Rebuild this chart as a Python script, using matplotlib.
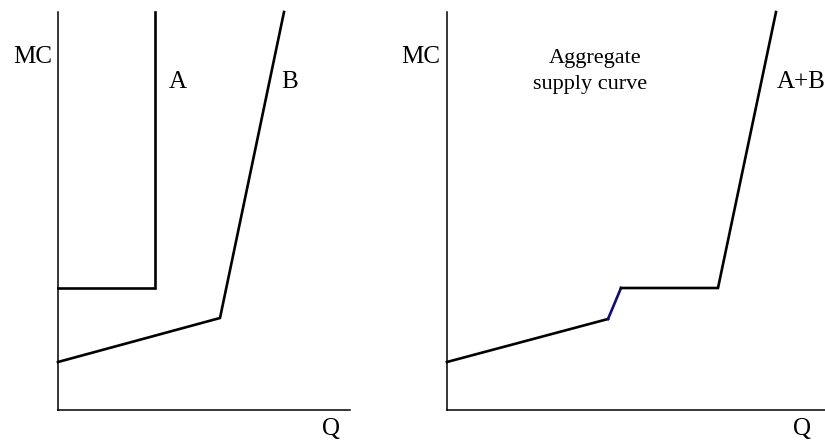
import matplotlib
matplotlib.use("Agg")
import matplotlib.pyplot as plt

# Data (Q, MC)
a_q = [0, 97, 97]
a_mc = [122, 122, 398]
b_q = [0, 162, 226]
b_mc = [48, 92, 398]
agg_q = [0, 161, 174, 271, 329]
agg_mc = [48, 91, 122, 122, 398]

W, H = 825, 444
fig = plt.figure(figsize=(W / 100, H / 100), dpi=100)
plt.rcParams['font.family'] = ['Liberation Serif', 'DejaVu Serif']

def make_ax(left, right, top, bottom):
    ax = fig.add_axes([left / W, 1 - bottom / H, (right - left) / W, (bottom - top) / H])
    ax.set_xlim(0, right - left)
    ax.set_ylim(0, bottom - top)
    for s in ('top', 'right'):
        ax.spines[s].set_visible(False)
    for s in ('left', 'bottom'):
        ax.spines[s].set_linewidth(1.1)
        ax.spines[s].set_color('black')
    ax.set_xticks([])
    ax.set_yticks([])
    ax.patch.set_alpha(0)
    return ax

ax1 = make_ax(58, 350, 12, 410)
ax1.plot(a_q, a_mc, color='black', lw=1.9, solid_joinstyle='miter', clip_on=False)
ax1.plot(b_q, b_mc, color='black', lw=1.9, solid_joinstyle='miter', clip_on=False)

ax2 = make_ax(447, 825, 12, 410)
ax2.plot(agg_q[:2], agg_mc[:2], color='black', lw=1.9, clip_on=False)
ax2.plot(agg_q[1:3], agg_mc[1:3], color='#0b0b85', lw=1.9, clip_on=False)
ax2.plot(agg_q[2:], agg_mc[2:], color='black', lw=1.9, solid_joinstyle='miter', clip_on=False)

def t(x, y, s, ha='center', size=18):
    fig.text(x / W, 1 - y / H, s, ha=ha, va='center', fontsize=size, color='black')

t(33, 57, 'MC')
t(421, 57, 'MC')
t(178, 82, 'A')
t(290, 82, 'B')
t(801, 82, 'A+B')
t(331, 429, 'Q')
t(802, 429, 'Q')
t(595, 59, 'Aggregate', size=16)
t(590, 85, 'supply curve', size=16)

fig.savefig('out.png', dpi=100)
